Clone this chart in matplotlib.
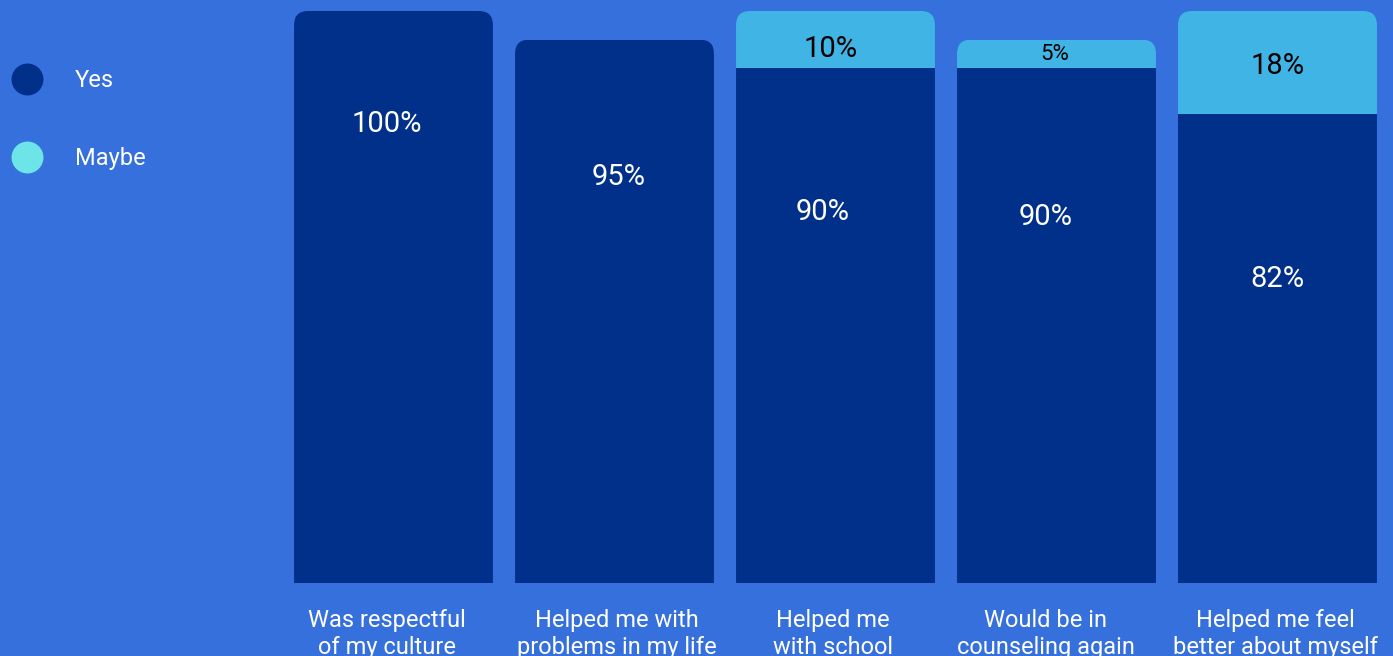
import matplotlib
matplotlib.use("Agg")
import matplotlib.pyplot as plt
from matplotlib.patches import FancyBboxPatch
from matplotlib.lines import Line2D
import numpy as np

categories = ["Was respectful\nof my culture", "Helped me with\nproblems in my life",
              "Helped me\nwith school", "Would be in\ncounseling again",
              "Helped me feel\nbetter about myself"]
yes_vals = [100, 95, 90, 90, 82]
maybe_vals = [0, 0, 10, 5, 18]
yes_labels = ["100%", "95%", "90%", "90%", "82%"]
maybe_labels = ["", "", "10%", "5%", "18%"]

# layout (label placement, in data units)
yes_label_y = [80.3, 71.0, 64.9, 63.9, 53.2]
yes_label_dx = [-0.03, 0.02, -0.06, -0.05, 0.0]
maybe_label_y = [0, 0, 93.4, 92.4, 90.4]
maybe_label_dx = [0, 0, -0.02, -0.01, 0.0]
maybe_label_size = [21, 21, 21, 16, 21]
cat_dx = [-0.03, 0.01, -0.01, -0.05, -0.01]

BG = "#3670DC"
NAVY = "#00308A"
LIGHT = "#41B4E6"
LEGEND_MAYBE = "#6CE4E8"
FONT = "Roboto"

W, H = 1393, 656
fig = plt.figure(figsize=(W / 100, H / 100), dpi=100, facecolor=BG)
ax = fig.add_axes([283 / W, (H - 583) / H, 1105 / W, 583 / H])
ax.set_facecolor(BG)
ax.set_xlim(-0.5, 4.5)
ax.set_ylim(0, 100 * 583 / 572)
for s in ax.spines.values():
    s.set_visible(False)
ax.set_xticks([])
ax.set_yticks([])

x = np.arange(len(categories))
width = 0.9
bars_yes = ax.bar(x, yes_vals, width, color=NAVY, linewidth=0)
bars_maybe = ax.bar(x, maybe_vals, width, bottom=yes_vals, color=LIGHT, linewidth=0)

# rounded top corners via clip path
rx = 14 / 221.0
ry = 14 / 5.72
for i in range(len(x)):
    total = yes_vals[i] + maybe_vals[i]
    clip = FancyBboxPatch((x[i] - width / 2, -10), width, total + 10,
                          boxstyle=f"round,pad=0,rounding_size={rx}",
                          mutation_aspect=ry / rx, transform=ax.transData)
    bars_yes[i].set_clip_path(clip)
    bars_maybe[i].set_clip_path(clip)

for i in range(len(x)):
    ax.text(x[i] + yes_label_dx[i], yes_label_y[i], yes_labels[i], color="white",
            fontsize=21, ha="center", va="center", family=FONT)
    if maybe_labels[i]:
        ax.text(x[i] + maybe_label_dx[i], maybe_label_y[i], maybe_labels[i], color="black",
                fontsize=maybe_label_size[i], ha="center", va="center", family=FONT)
    ax.text(x[i] + cat_dx[i], -4.6, categories[i], color="white", fontsize=17,
            ha="center", va="top", family=FONT, linespacing=1.18, clip_on=False)

handles = [Line2D([], [], marker="o", linestyle="none", markersize=23,
                  markerfacecolor=NAVY, markeredgewidth=0),
           Line2D([], [], marker="o", linestyle="none", markersize=23,
                  markerfacecolor=LEGEND_MAYBE, markeredgewidth=0)]
leg = fig.legend(handles, ["Yes", "Maybe"], loc="upper left",
                 bbox_to_anchor=(3 / W, 1 - 69 / H), frameon=False,
                 labelspacing=2.33, handletextpad=1.06, borderpad=0, borderaxespad=0,
                 prop={"family": FONT, "size": 17})
for t in leg.get_texts():
    t.set_color("white")

fig.savefig("out.png", dpi=100, facecolor=BG)
